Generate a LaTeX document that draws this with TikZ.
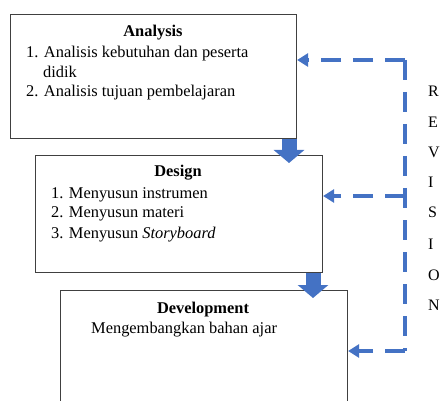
\documentclass[tikz,border=0pt]{standalone}
\usepackage{fontspec}
\setmainfont{Liberation Serif}
\usetikzlibrary{arrows.meta,calc}
\definecolor{wblue}{HTML}{4472C4}
\definecolor{edge}{HTML}{404040}
\begin{document}
\begin{tikzpicture}[x=1pt,y=-1pt,
  box/.style={draw=edge,line width=1.1pt,fill=white,anchor=north west,inner sep=0pt},
  txt/.style={anchor=base west,inner sep=0pt,font=\fontsize{16.4}{19}\selectfont},
  ttl/.style={anchor=base,inner sep=0pt,font=\fontsize{16.4}{19}\selectfont\bfseries},
  blk/.style={wblue,line width=15pt,-{Triangle[width=30pt,length=13pt]},shorten >=0pt},
  rev/.style={wblue,line width=3.6pt,dash pattern=on 20pt off 12pt},
  revtip/.style={-{Triangle[width=13pt,length=11pt]}},
  lett/.style={anchor=base west,inner sep=0pt,font=\fontsize{16}{18}\selectfont}]
\useasboundingbox (0,0) rectangle (442,401);
\clip (0,0) rectangle (442,401);
% boxes
\node[box,minimum width=286pt,minimum height=124pt] (A) at (10,14) {};
\node[box,minimum width=287pt,minimum height=117pt] (D) at (35,155) {};
\node[box,minimum width=287pt,minimum height=140pt] (V) at (60,290) {};
% block arrows
\coordinate (a1) at ($(A.south west)+(279,0)$);
\coordinate (a2) at ($(D.north west)+(254,8)$);
\coordinate (b1) at ($(D.south west)+(278,0)$);
\coordinate (b2) at ($(V.north west)+(253,8)$);
\draw[blk] (a1) -- (a2);
\draw[blk] (b1) -- (b2);
% Analysis text
\node[ttl] (At) at (153,37) {Analysis};
\node[txt] (A1) at (26,58) {1. Analisis kebutuhan dan peserta};
\node[txt] (A1b) at (43,78) {didik};
\node[txt] (A2) at (26,97) {2. Analisis tujuan pembelajaran};
% Design text
\node[ttl] (Dt) at (178,177) {Design};
\node[txt] (D1) at (51,198) {1. Menyusun instrumen};
\node[txt] (D2) at (51,218) {2. Menyusun materi};
\node[txt] (D3) at (51,238) {3. Menyusun \textit{Storyboard}};
% Development text
\node[ttl] (Vt) at (203,313) {Development};
\node[txt] (V1) at (91,333) {Mengembangkan bahan ajar};
% revision loop
\coordinate (r1) at (405,60);
\coordinate (r2) at (405,196);
\coordinate (r3) at (405,351);
\draw[rev] (r1) -- (r3);
\draw[rev,revtip] (r1) -- (A.east |- r1);
\draw[rev,revtip] (r2) -- (D.east |- r2);
\draw[rev,revtip] (r3) -- (V.east |- r3);
% letters
\foreach \l/\y [count=\i] in {R/97,E/128,V/158,I/188,S/218,I/249,O/280,N/310}
  \node[lett] (L\i) at (428,\y) {\l};
\end{tikzpicture}
\end{document}
